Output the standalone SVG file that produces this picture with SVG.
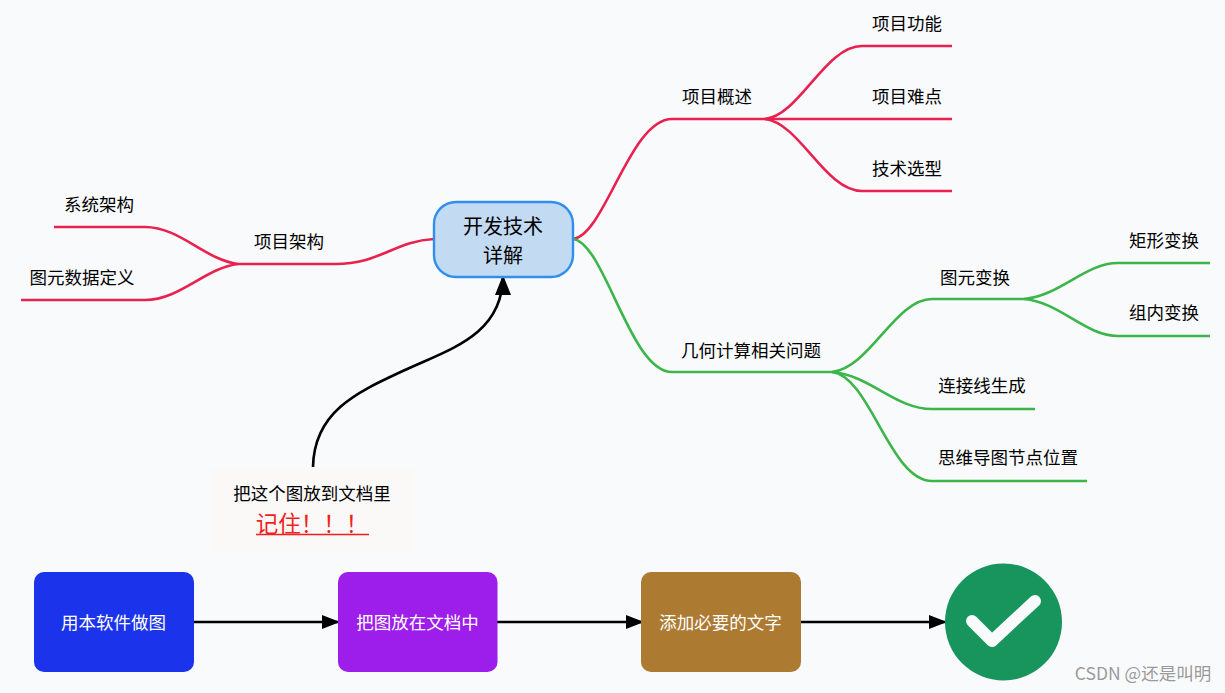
<svg xmlns="http://www.w3.org/2000/svg" width="1225" height="693" viewBox="0 0 1225 693">
<style>
text{font-family:"Noto Sans CJK SC","Liberation Sans",sans-serif;font-size:17.5px;fill:#000;text-anchor:middle}
.w{fill:#fff}
.l{fill:none;stroke-width:2.6;stroke-linecap:butt}
.r{stroke:#e8214f}
.g{stroke:#3cb54a}
.k{fill:none;stroke:#000;stroke-width:2.6}
</style>
<defs>
<marker id="a" markerUnits="userSpaceOnUse" markerWidth="18" markerHeight="14" refX="18" refY="7" orient="auto"><path d="M0 0L18 7L0 14Z" fill="#000"/></marker>
<marker id="b" markerUnits="userSpaceOnUse" markerWidth="20" markerHeight="16" refX="20" refY="8" orient="auto"><path d="M0 0L20 8L0 16Z" fill="#000"/></marker>
</defs>
<rect width="1225" height="693" fill="#f9fafc"/>
<g id="connectors">
<path class="l r" d="M573 239C605 235 630 119 672 119H765"/>
<path class="l r" d="M765 119C800 115 825 46 862 46H952"/>
<path class="l r" d="M765 119H952"/>
<path class="l r" d="M765 119C800 123 825 191 862 191H952"/>
<path class="l r" d="M434 239C395 241 380 264 335 264H238"/>
<path class="l r" d="M238 264C205 260 180 227 145 227H54"/>
<path class="l r" d="M238 264C205 268 180 300 145 300H21"/>
<path class="l g" d="M573 239C605 243 630 372 672 372H832"/>
<path class="l g" d="M832 372C870 368 895 299 932 299H1024"/>
<path class="l g" d="M1024 299C1060 296 1085 263 1118 263H1210"/>
<path class="l g" d="M1024 299C1060 302 1085 336 1118 336H1210"/>
<path class="l g" d="M832 372C870 375 895 409 932 409H1035"/>
<path class="l g" d="M832 372C870 376 890 481 932 481H1087"/>
<path class="k" marker-end="url(#b)" d="M313 467C314 410 360 391 405 370C450 349 503 335 503 275"/>
<path class="k" marker-end="url(#a)" d="M193 622H340"/>
<path class="k" marker-end="url(#a)" d="M497 622H644"/>
<path class="k" marker-end="url(#a)" d="M801 622H947"/>
</g>
<g id="root"><rect x="434" y="202" width="139" height="75" rx="22" fill="#c3daf3" stroke="#308fed" stroke-width="2.4"/><text x="503" y="234" style="font-size:20px">开发技术</text><text x="503" y="263" style="font-size:20px">详解</text></g>
<g id="n1"><text x="717" y="102.500">项目概述</text></g>
<g id="n2"><text x="907" y="29.500">项目功能</text></g>
<g id="n3"><text x="907" y="102.500">项目难点</text></g>
<g id="n4"><text x="907" y="174.500">技术选型</text></g>
<g id="n5"><text x="289" y="247.500">项目架构</text></g>
<g id="n6"><text x="99" y="210.500">系统架构</text></g>
<g id="n7"><text x="82" y="284">图元数据定义</text></g>
<g id="n8"><text x="751" y="356.500">几何计算相关问题</text></g>
<g id="n9"><text x="975" y="283.500">图元变换</text></g>
<g id="n10"><text x="1164" y="246.500">矩形变换</text></g>
<g id="n11"><text x="1164" y="319">组内变换</text></g>
<g id="n12"><text x="982" y="392">连接线生成</text></g>
<g id="n13"><text x="1008" y="464">思维导图节点位置</text></g>
<g id="note"><rect x="211" y="468" width="203" height="84" fill="#faf9f8"/><text x="312" y="500">把这个图放到文档里</text><text x="312" y="532" style="font-size:22.500px;fill:#f01f1f">记住！！！</text><path d="M256 534.500H369" stroke="#f01f1f" stroke-width="1.500"/></g>
<g id="s1"><rect x="34" y="572" width="160" height="100" rx="10" fill="#1b33ea"/><text class="w" x="113.500" y="629">用本软件做图</text></g>
<g id="s2"><rect x="338" y="572" width="159.500" height="100" rx="10" fill="#9d1deb"/><text class="w" x="417.500" y="629">把图放在文档中</text></g>
<g id="s3"><rect x="641" y="572" width="160" height="100" rx="10" fill="#ad7a32"/><text class="w" x="720.500" y="629">添加必要的文字</text></g>
<g id="done"><circle cx="1003.500" cy="622" r="58.500" fill="#18945d"/><path d="M972 621L992 641L1035 601" fill="none" stroke="#f9fafc" stroke-width="12" stroke-linecap="round" stroke-linejoin="round"/></g>
<text x="1143" y="680" style="fill:#9a9a9a;font-size:17.500px">CSDN @还是叫明</text>
</svg>
